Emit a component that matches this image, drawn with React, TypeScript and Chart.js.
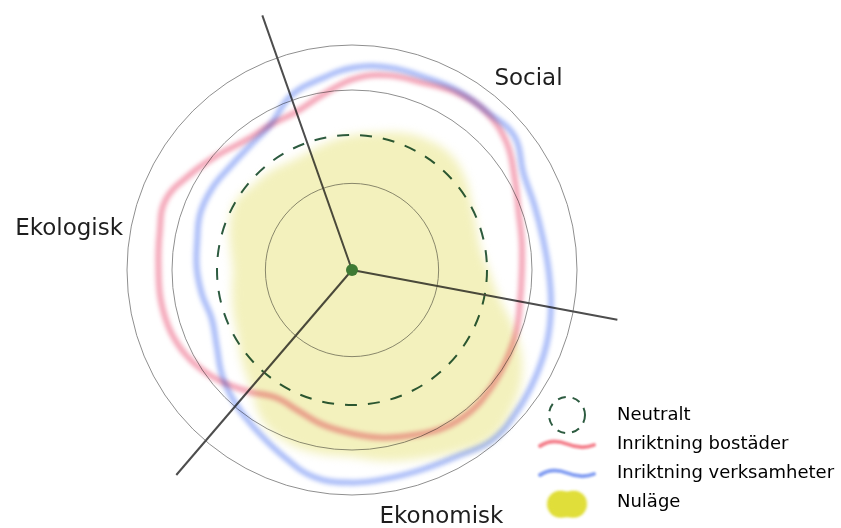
import React, { useEffect, useRef } from 'react';
import { Chart, registerables } from 'chart.js';

// ---- data ----
const DIRECTIONS = ['0°', '10°', '20°', '30°', '40°', '50°', '60°', '70°', '80°', '90°', '100°', '110°', '120°', '130°', '140°', '150°', '160°', '170°', '180°', '190°', '200°', '210°', '220°', '230°', '240°', '250°', '260°', '270°', '280°', '290°', '300°', '310°', '320°', '330°', '340°', '350°'];
const AXIS_INDICES = [10, 22, 34];
const RINGS = [0, 38.5, 60, 80, 100, 120];
const NEUTRAL = 60;
const AXIS_NAMES = ['Social', 'Ekonomisk', 'Ekologisk'];
const LEGEND_LABELS = ['Neutralt', 'Inriktning bostäder', 'Inriktning verksamheter', 'Nuläge'];
const BOSTADER = [85, 88, 89, 91.5, 92, 89, 83, 78.5, 76.5, 75.5, 76, 78, 79.5, 81, 82, 81, 78, 75.5, 72.5, 70, 67, 66, 71, 77, 82, 85, 86, 86, 87, 88.5, 83.5, 78.5, 74.5, 74, 74.5, 79];
const VERKSAMHETER = [90, 91.5, 91.5, 92.5, 92.5, 93.5, 87.5, 86, 86, 87.5, 90, 92.5, 94.5, 96.5, 98, 95, 94, 94, 94.5, 93.5, 88, 83, 79, 74.5, 69, 66, 67.5, 69, 70, 72, 72, 71, 71.5, 74, 82, 86];
const NULAGE = [60, 62, 65, 67, 67.5, 65, 61, 58.5, 58, 61, 66.5, 77.5, 88, 94, 97, 93, 89, 86, 83, 83, 82, 78, 69, 63.5, 58.5, 56, 54, 53, 55, 58, 60, 58, 57, 55.5, 56, 58];
const CENTER = [0];

// ---- plugins ----
const softPlugin = {
  id: 'softStrokes',
  beforeDatasetDraw(chart: any, args: any) {
    const ds: any = chart.data.datasets[args.index];
    const ctx = chart.ctx;
    ctx.save();
    if (ds.blur) ctx.filter = `blur(${ds.blur}px)`;
    if (ds.blend) ctx.globalCompositeOperation = ds.blend;
  },
  afterDatasetDraw(chart: any) {
    chart.ctx.restore();
  },
};
Chart.register(softPlugin as any);
Chart.register(...registerables);

const NAME_SLOTS = [4.177, 15.93, 27.81];
const NAME_DIST = [116.4, 115.7, 127.2];

const axisNamePlugin = {
  id: 'axisNames',
  afterDatasetsDraw(chart: any) {
    const s = chart.scales.r;
    const ctx = chart.ctx;
    const size = 23;
    ctx.save();
    ctx.font = `${size}px "DejaVu Sans"`;
    ctx.fillStyle = '#1e1e1e';
    ctx.textAlign = 'center';
    ctx.textBaseline = 'alphabetic';
    AXIS_NAMES.forEach((name, i) => {
      const p = s.getPointPosition(NAME_SLOTS[i], s.getDistanceFromCenterForValue(NAME_DIST[i]));
      ctx.fillText(name, p.x, p.y + size * 0.364);
    });
    ctx.restore();
  },
};

const legendPlacePlugin = {
  id: 'legendPlace',
  afterLayout(chart: any) {
    const lg = chart.legend;
    if (lg) {
      const w = lg.width;
      lg.left = 515;
      lg.right = 515 + w;
    }
    const a = chart.chartArea;
    a.left = 0;
    a.top = 0;
    a.right = chart.width;
    a.bottom = chart.height;
    a.width = chart.width;
    a.height = chart.height;
  },
};

function makeIcon(kind: number): HTMLCanvasElement {
  const c = document.createElement('canvas');
  c.width = 66;
  c.height = 44;
  const g = c.getContext('2d') as CanvasRenderingContext2D;
  if (kind === 0) {
    g.strokeStyle = '#2d5b40';
    g.lineWidth = 2;
    g.setLineDash([8, 7]);
    g.beginPath();
    g.arc(33, 22, 18, 0, Math.PI * 2);
    g.stroke();
  } else if (kind === 1 || kind === 2) {
    g.filter = 'blur(1.2px)';
    g.strokeStyle = kind === 1 ? '#f4838f' : '#86a0f2';
    g.lineWidth = 4;
    g.lineCap = 'round';
    g.beginPath();
    g.moveTo(6, 24);
    g.bezierCurveTo(15, 18, 23, 18, 33, 22);
    g.bezierCurveTo(43, 26, 52, 26, 60, 23);
    g.stroke();
  } else {
    g.filter = 'blur(1.8px)';
    g.fillStyle = '#e0de3a';
    g.beginPath();
    g.ellipse(26, 24, 13, 13, 0, 0, Math.PI * 2);
    g.ellipse(40, 24, 13, 13, 0, 0, Math.PI * 2);
    g.fill();
    g.beginPath();
    g.roundRect(16, 12, 34, 25, 10);
    g.fill();
  }
  return c;
}

const ringColor = (c: any) => {
  const v = c.tick ? c.tick.value : 0;
  if (v === RINGS[RINGS.length - 1]) return 'transparent';
  return v === NEUTRAL ? '#2d5b40' : '#8f8f8f';
};
const ringWidth = (c: any) => (c.tick && c.tick.value === NEUTRAL ? 2 : 1);
const ringDash = (c: any) => (c.tick && c.tick.value === NEUTRAL ? [12, 11] : []);

export default function App() {
  const ref = useRef<HTMLCanvasElement>(null);
  useEffect(() => {
    const canvas = ref.current;
    if (!canvas) return;
    const icons = [0, 1, 2, 3].map(makeIcon);
    const chart = new Chart(canvas, {
      type: 'radar',
      data: {
        labels: DIRECTIONS,
        datasets: [
          {
            label: 'Centrum',
            data: CENTER,
            pointRadius: 6,
            pointHoverRadius: 6,
            pointBackgroundColor: '#3e7a34',
            pointBorderWidth: 0,
            borderWidth: 0,
            showLine: false,
          } as any,
          {
            label: LEGEND_LABELS[1],
            data: BOSTADER,
            fill: false,
            borderColor: '#f4a6b8',
            borderWidth: 6,
            tension: 0.4,
            pointRadius: 0,
            pointHoverRadius: 0,
            blur: 2,
            blend: 'multiply',
          } as any,
          {
            label: LEGEND_LABELS[2],
            data: VERKSAMHETER,
            fill: false,
            borderColor: '#abbdf8',
            borderWidth: 6,
            tension: 0.4,
            pointRadius: 0,
            pointHoverRadius: 0,
            blur: 2,
            blend: 'multiply',
          } as any,
          {
            label: LEGEND_LABELS[3],
            data: NULAGE,
            fill: true,
            backgroundColor: '#f3f1bd',
            borderColor: 'transparent',
            borderWidth: 0,
            tension: 0.4,
            pointRadius: 0,
            pointHoverRadius: 0,
            blur: 5,
            blend: 'multiply',
          } as any,
        ],
      },
      options: {
        responsive: false,
        animation: false,
        events: [],
        layout: { padding: { top: 0, right: 0, bottom: 6, left: 0 } },
        scales: {
          r: {
            min: 0,
            max: 120,
            startAngle: 0.6,
            ticks: { display: false },
            pointLabels: { display: false },
            afterBuildTicks: (s: any) => {
              s.ticks = RINGS.map((v) => ({ value: v }));
            },
            afterFit: (s: any) => {
              s.xCenter = 352;
              s.yCenter = 270;
              s.drawingArea = 270;
            },
            grid: { circular: true, color: ringColor, lineWidth: ringWidth, borderDash: ringDash } as any,
            border: { dash: ringDash } as any,
            angleLines: {
              display: true,
              color: (c: any) => (AXIS_INDICES.includes(c.index) ? '#4d4d4d' : 'transparent'),
              lineWidth: (c: any) => (AXIS_INDICES.includes(c.index) ? 2 : 0),
            },
          } as any,
        },
        plugins: {
          tooltip: { enabled: false },
          legend: {
            position: 'right',
            align: 'end',
            labels: {
              usePointStyle: true,
              pointStyleWidth: 82,
              padding: 11,
              color: '#222',
              font: { family: 'DejaVu Sans', size: 18 },
              generateLabels: () =>
                LEGEND_LABELS.map((text, i) => ({
                  text,
                  pointStyle: icons[i],
                  fillStyle: 'transparent',
                  strokeStyle: 'transparent',
                  lineWidth: 0,
                  hidden: false,
                  index: i,
                })) as any,
            },
          },
        },
      } as any,
      plugins: [axisNamePlugin, legendPlacePlugin] as any,
    });
    return () => chart.destroy();
  }, []);
  return (
    <canvas
      ref={ref}
      width={841}
      height={528}
      style={{ position: 'absolute', left: 0, top: 0, display: 'block' }}
    />
  );
}
